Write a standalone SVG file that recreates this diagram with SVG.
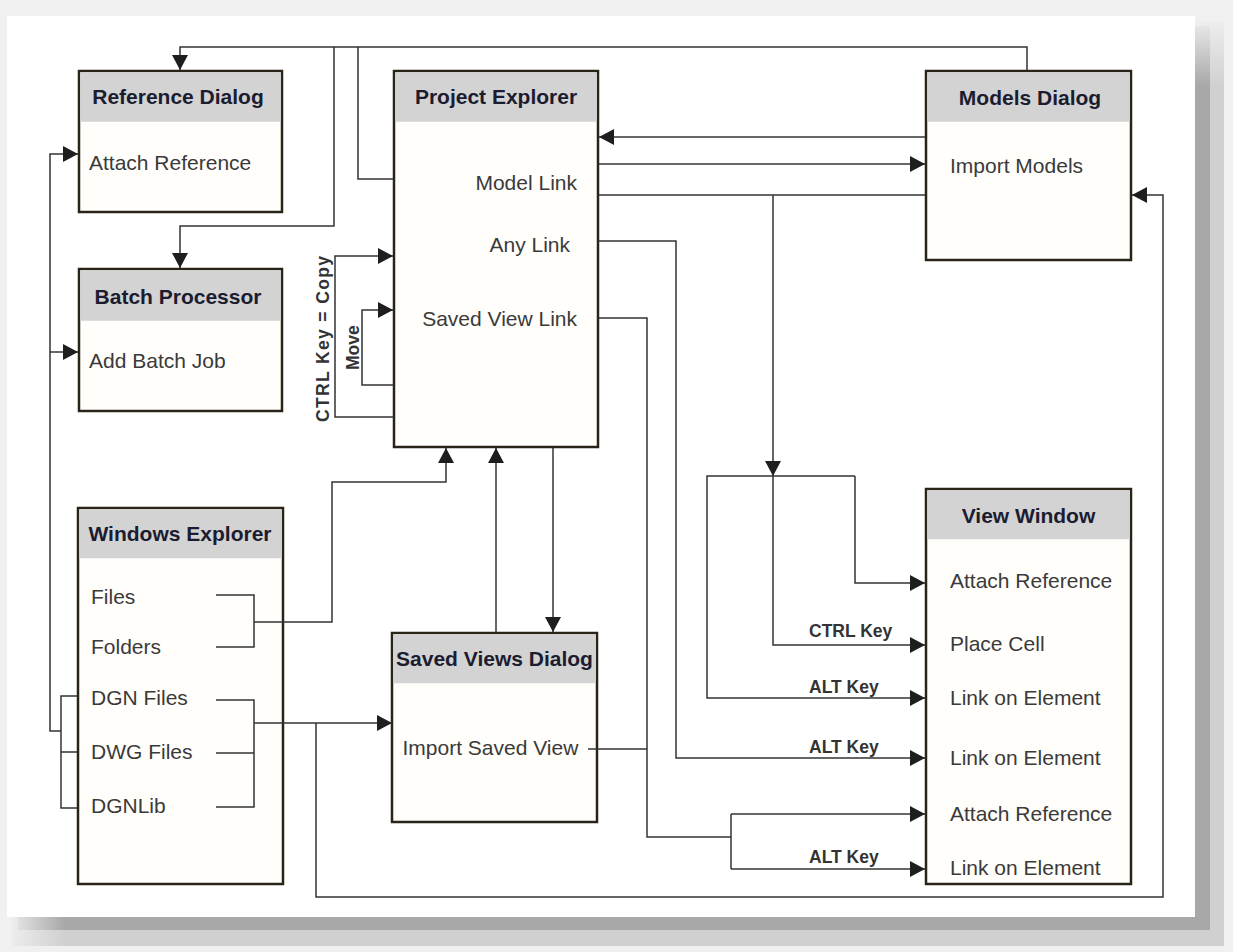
<svg xmlns="http://www.w3.org/2000/svg" width="1233" height="952" viewBox="0 0 1233 952">
<style>
.box{fill:#fffefa;stroke:#2a2418;stroke-width:2.5}
.hdr{fill:#d3d3d3}
.title{font-family:"Liberation Sans",Arial,sans-serif;font-weight:bold;font-size:21px;fill:#1c1c30;text-anchor:middle}
.item{font-family:"Liberation Sans",Arial,sans-serif;font-size:21px;fill:#3a3a3a}
.lbl{font-family:"Liberation Sans",Arial,sans-serif;font-weight:bold;font-size:17.5px;fill:#333}
.ln{fill:none;stroke:#333;stroke-width:1.5}
.arr{marker-end:url(#ah)}
</style>
<defs>
<marker id="ah" markerUnits="userSpaceOnUse" markerWidth="15" markerHeight="16" refX="15" refY="8" orient="auto">
<path d="M0,0 L15,8 L0,16 Z" fill="#1e1e1e"/>
</marker>
<linearGradient id="fadeTop" x1="0" y1="0" x2="0" y2="1">
<stop offset="0" stop-color="#f0f0f0" stop-opacity="1"/>
<stop offset="1" stop-color="#f0f0f0" stop-opacity="0"/>
</linearGradient>
<linearGradient id="fadeLeft" x1="0" y1="0" x2="1" y2="0">
<stop offset="0" stop-color="#f0f0f0" stop-opacity="1"/>
<stop offset="1" stop-color="#f0f0f0" stop-opacity="0"/>
</linearGradient>
</defs>

<!-- page frame -->
<rect x="0" y="0" width="1233" height="952" fill="#f0f0f0"/>
<rect x="12" y="22" width="1212" height="924" fill="#d0d0d0"/>
<rect x="18" y="26" width="1192" height="904" fill="#a8a8a8"/>
<rect x="1190" y="16" width="40" height="70" fill="url(#fadeTop)"/>
<rect x="5" y="912" width="60" height="40" fill="url(#fadeLeft)"/>
<rect x="7" y="16" width="1188" height="901" fill="#ffffff"/>

<g id="reference-dialog">
<rect class="box" x="79" y="71" width="203" height="141"/>
<rect class="hdr" x="80.25" y="72.25" width="200.5" height="49.5"/>
<text class="title" x="178" y="104">Reference Dialog</text>
<text class="item" x="89" y="170">Attach Reference</text>
</g>

<g id="batch-processor">
<rect class="box" x="79" y="269" width="203" height="142"/>
<rect class="hdr" x="80.25" y="270.25" width="200.5" height="50.5"/>
<text class="title" x="178" y="304">Batch Processor</text>
<text class="item" x="89" y="368">Add Batch Job</text>
</g>

<g id="project-explorer">
<rect class="box" x="394" y="71" width="204" height="376"/>
<rect class="hdr" x="395.25" y="72.25" width="201.5" height="49.5"/>
<text class="title" x="496" y="104">Project Explorer</text>
<text class="item" x="577" y="190" text-anchor="end">Model Link</text>
<text class="item" x="570" y="252" text-anchor="end">Any Link</text>
<text class="item" x="577" y="326" text-anchor="end">Saved View Link</text>
</g>

<g id="models-dialog">
<rect class="box" x="926" y="71" width="205" height="189"/>
<rect class="hdr" x="927.25" y="72.25" width="202.5" height="49.5"/>
<text class="title" x="1030" y="105">Models Dialog</text>
<text class="item" x="950" y="173">Import Models</text>
</g>

<g id="windows-explorer">
<rect class="box" x="78" y="508" width="205" height="376"/>
<rect class="hdr" x="79.25" y="509.25" width="202.5" height="49"/>
<text class="title" x="180" y="541">Windows Explorer</text>
<text class="item" x="91" y="604">Files</text>
<text class="item" x="91" y="654">Folders</text>
<text class="item" x="91" y="705">DGN Files</text>
<text class="item" x="91" y="759">DWG Files</text>
<text class="item" x="91" y="813">DGNLib</text>
</g>

<g id="saved-views-dialog">
<rect class="box" x="392" y="633" width="205" height="189"/>
<rect class="hdr" x="393.25" y="634.25" width="202.5" height="49"/>
<text class="title" x="494.5" y="666">Saved Views Dialog</text>
<text class="item" x="402.5" y="755">Import Saved View</text>
</g>

<g id="view-window">
<rect class="box" x="926" y="489" width="205" height="395"/>
<rect class="hdr" x="927.25" y="490.25" width="202.5" height="49"/>
<text class="title" x="1028.5" y="523">View Window</text>
<text class="item" x="950" y="588">Attach Reference</text>
<text class="item" x="950" y="651">Place Cell</text>
<text class="item" x="950" y="705">Link on Element</text>
<text class="item" x="950" y="765">Link on Element</text>
<text class="item" x="950" y="821">Attach Reference</text>
<text class="item" x="950" y="875">Link on Element</text>
</g>

<g id="connectors">
<path class="ln arr" d="M1027,70 V47 H180 V70"/>
<path class="ln" d="M393,179 H358 V47"/>
<path class="ln arr" d="M334,47 V226 H180 V268"/>
<path class="ln arr" d="M393,417 H335 V256 H393"/>
<path class="ln arr" d="M393,385 H362 V310 H393"/>
<path class="ln arr" d="M925,137 H599"/>
<path class="ln arr" d="M599,164 H925"/>
<path class="ln" d="M599,195 H925"/>
<path class="ln arr" d="M773,195 V476"/>
<path class="ln arr" d="M773,476 V645 H925"/>
<path class="ln arr" d="M855,476 H707 V698 H925"/>
<path class="ln arr" d="M855,476 V583 H925"/>
<path class="ln arr" d="M599,241 H676 V758 H925"/>
<path class="ln" d="M599,318 H647 V837 H731"/>
<path class="ln" d="M731,814 V869"/>
<path class="ln arr" d="M731,814 H925"/>
<path class="ln arr" d="M731,869 H925"/>
<path class="ln" d="M588,749 H647"/>
<path class="ln arr" d="M254,622 H332 V482 H446 V448"/>
<path class="ln" d="M216,595 H254 V647 H216"/>
<path class="ln arr" d="M496,632 V448"/>
<path class="ln arr" d="M553,448 V632"/>
<path class="ln" d="M216,700 H254 V807 H216 M216,753 H254"/>
<path class="ln arr" d="M254,723 H392"/>
<path class="ln arr" d="M316,723 V897 H1163 V195 H1132"/>
<path class="ln" d="M77,696 H61 V808 H77 M61,752 H77"/>
<path class="ln arr" d="M61,731 H50 V154 H78"/>
<path class="ln arr" d="M50,352 H78"/>
<text class="lbl" transform="translate(329,422) rotate(-90)" textLength="166" lengthAdjust="spacing">CTRL Key = Copy</text>
<text class="lbl" transform="translate(359,370) rotate(-90)">Move</text>
<text class="lbl" x="809" y="637">CTRL Key</text>
<text class="lbl" x="809" y="693">ALT Key</text>
<text class="lbl" x="809" y="753">ALT Key</text>
<text class="lbl" x="809" y="863">ALT Key</text>
</g>
</svg>
